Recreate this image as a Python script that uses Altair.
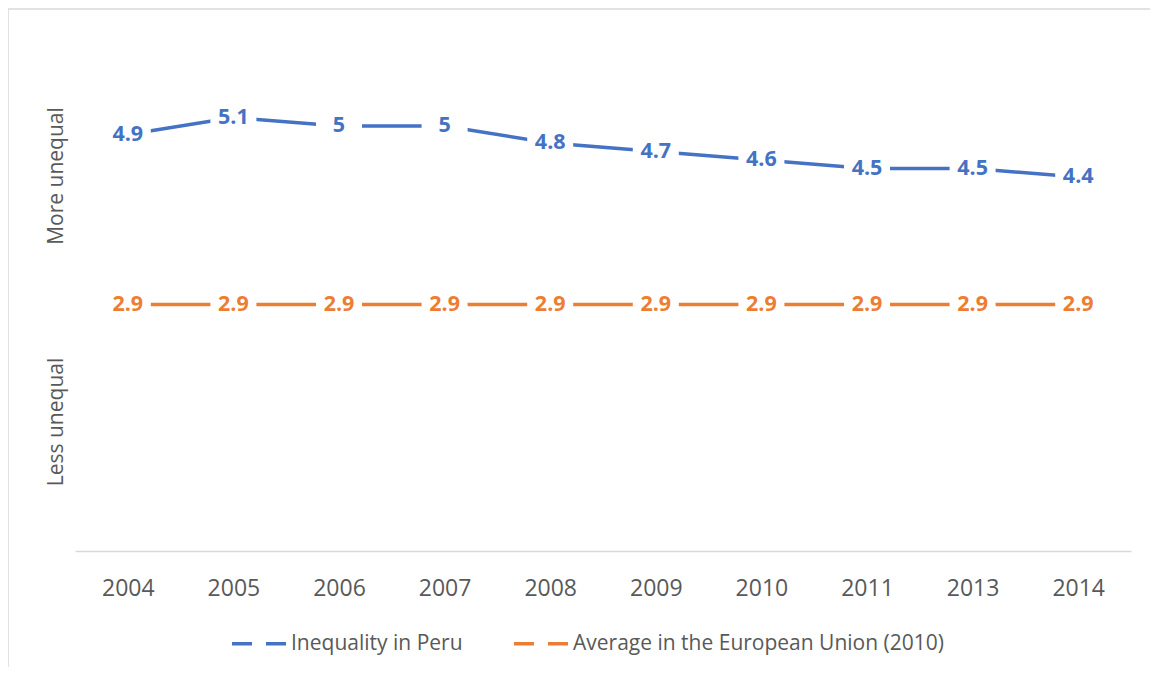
import altair as alt
import pandas as pd

years = ["2004", "2005", "2006", "2007", "2008", "2009", "2010", "2011", "2013", "2014"]
peru = [4.9, 5.1, 5.0, 5.0, 4.8, 4.7, 4.6, 4.5, 4.5, 4.4]
eu = [2.9, 2.9, 2.9, 2.9, 2.9, 2.9, 2.9, 2.9, 2.9, 2.9]
series_names = ["Inequality in Peru", "Average in the European Union (2010)"]
colors = ["#4472C4", "#ED7D31"]
side_labels = ["More unequal", "Less unequal"]

rows = []
for name, vals in zip(series_names, [peru, eu]):
    for y, v in zip(years, vals):
        rows.append({"year": y, "series": name, "value": v, "label": f"{v:g}"})
df = pd.DataFrame(rows)

FONT = "Open Sans"
GREY = "#595959"

x_enc = alt.X(
    "year:N",
    sort=years,
    scale=alt.Scale(type="point", padding=0.5),
    axis=alt.Axis(
        title=None,
        labelFont=FONT,
        labelFontSize=23,
        labelColor=GREY,
        labelAngle=0,
        ticks=False,
        tickSize=0,
        grid=False,
        domainColor="#d9d9d9",
        domainWidth=1.5,
        labelPadding=26,
    ),
)
y_enc = alt.Y("value:Q", scale=alt.Scale(domain=[0, 6]), axis=None)
color_enc = alt.Color(
    "series:N",
    scale=alt.Scale(domain=series_names, range=colors),
    legend=alt.Legend(
        orient="none",
        legendX=155,
        legendY=573,
        direction="horizontal",
        title=None,
        symbolType="stroke",
        symbolSize=3025,
        symbolStrokeWidth=3.5,
        symbolDash=[20, 14],
        labelFont=FONT,
        labelFontSize=21,
        labelColor=GREY,
        labelOffset=2,
        labelLimit=0,
        columnPadding=44,
        padding=0,
    ),
)

base = alt.Chart(df).encode(x=x_enc, y=y_enc, color=color_enc)

lines = base.mark_line(strokeWidth=3.5)
boxes = base.mark_point(
    shape="M-1,-0.65L1,-0.65L1,0.65L-1,0.65Z",
    filled=True,
    size=2116,
    opacity=1,
    strokeWidth=0,
).encode(color=alt.value("white"))
texts = base.mark_text(
    font=FONT, fontSize=21.5, fontWeight="bold", baseline="middle", align="center"
).encode(text="label:N")

one = pd.DataFrame({"a": [0]})
border = alt.Chart(one).mark_rect(fillOpacity=0, stroke="#d9d9d9", strokeWidth=1.5).encode(
    x=alt.value(-67), x2=alt.value(1400), y=alt.value(-32), y2=alt.value(900)
)
more = alt.Chart(one).mark_text(
    angle=270, font=FONT, fontSize=21, color=GREY, align="center", baseline="middle"
).encode(text=alt.value(side_labels[0]), x=alt.value(-18), y=alt.value(135))
less = alt.Chart(one).mark_text(
    angle=270, font=FONT, fontSize=21, color=GREY, align="center", baseline="middle"
).encode(text=alt.value(side_labels[1]), x=alt.value(-18), y=alt.value(381))

chart = (
    alt.layer(border, lines, boxes, texts, more, less)
    .properties(
        width=1056,
        height=510,
        autosize="none",
        padding={"left": 67, "top": 33, "right": 19, "bottom": 116},
    )
    .configure_view(strokeWidth=0)
)

chart.save("out.html", embed_options={"renderer": "svg", "actions": False})
